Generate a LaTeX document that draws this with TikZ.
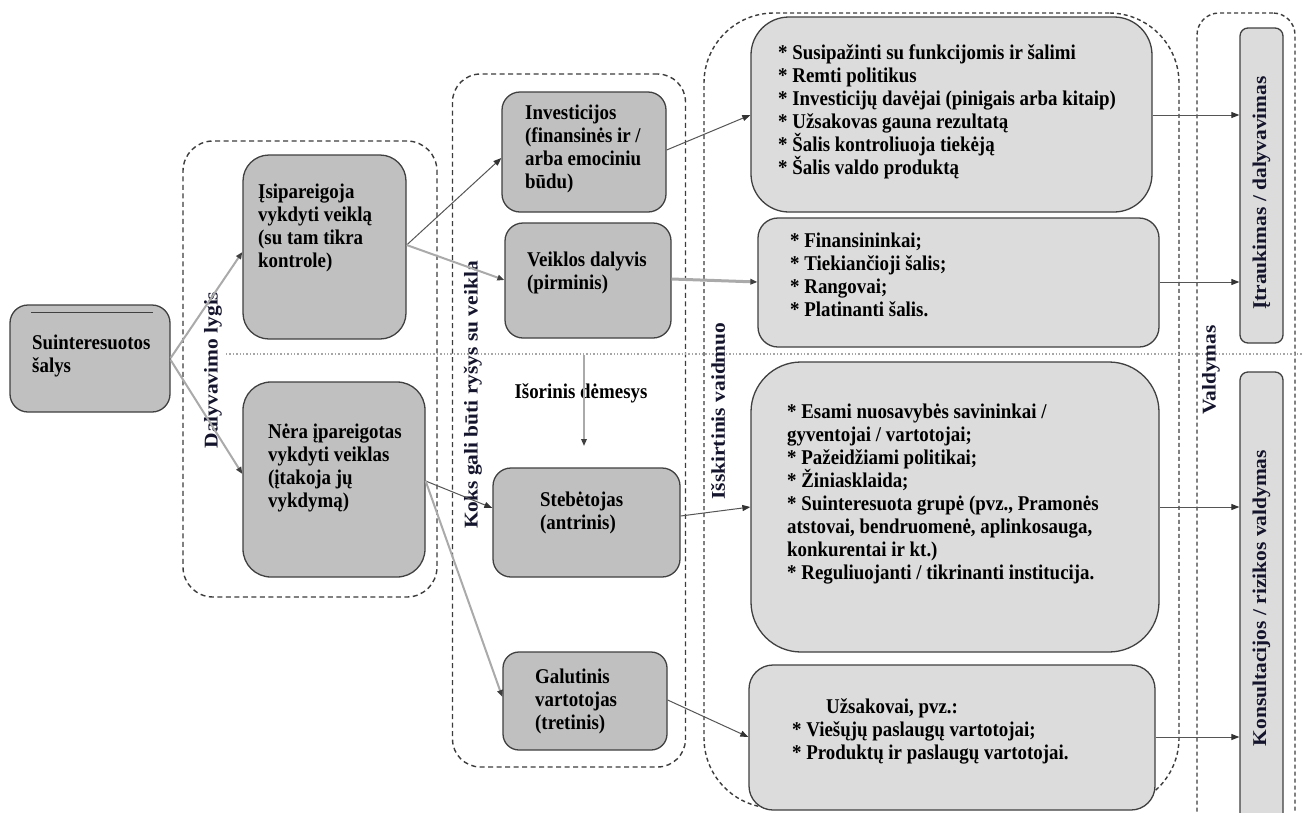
\documentclass[tikz,border=0pt]{standalone}
\usepackage{fontspec}
\setmainfont{Liberation Serif}[FakeStretch=0.9]
\newfontfamily\vfont{Liberation Serif}[FakeStretch=1.1]
\usetikzlibrary{arrows.meta}
\definecolor{boxdark}{RGB}{192,192,192}
\definecolor{boxlight}{RGB}{220,220,220}
\definecolor{edge}{RGB}{64,64,64}
\definecolor{grpline}{RGB}{60,60,60}
\definecolor{labcol}{RGB}{20,20,45}
\definecolor{lightarrow}{RGB}{170,170,170}
\definecolor{darkarrow}{RGB}{85,85,85}
\tikzset{
  lbox/.style={draw=edge, line width=1.3pt, fill=boxdark, inner sep=0},
  rbox/.style={draw=edge, line width=1.3pt, fill=boxlight, inner sep=0},
  grp/.style={draw=grpline, line width=1.4pt, dash pattern=on 5pt off 3.5pt, inner sep=0},
  grpfine/.style={grp, dash pattern=on 4pt off 3pt},
  txt/.style={anchor=west, align=left, inner sep=0, font=\fontsize{21}{23}\selectfont\bfseries, text=black},
  vlab/.style={rotate=90, inner sep=0, font=\vfont\fontsize{19.5}{23}\selectfont\bfseries, text=labcol},
  larr/.style={draw=lightarrow, line width=2pt, -{Triangle[length=7pt,width=5.5pt,fill=black!75,color=black!75]}},
  darr/.style={draw=darkarrow, line width=1pt, -{Triangle[length=8pt,width=6pt,fill=black!80,color=black!80]}},
  dotline/.style={draw=black!35, line width=1.4pt, dotted}
}
\begin{document}
\begin{tikzpicture}[x=1pt,y=-1pt]
\useasboundingbox (0,0) rectangle (1302,812);
\clip (0,0) rectangle (1302,812);
\fill[white] (0,0) rectangle (1302,812);

% groups
\node[grp, rounded corners=30, minimum width=254, minimum height=456] (g1) at (310,369) {};
\node[grp, rounded corners=28, minimum width=233, minimum height=693] (g2) at (569,420.5) {};
\node[grpfine, rounded corners=70, minimum width=475, minimum height=795] (g3) at (941.5,410.5) {};
\node[grpfine, rounded corners=22, minimum width=98, minimum height=830] (g4) at (1246,428) {};

% dotted divider
\coordinate (d1) at (226,354);
\coordinate (d2) at (1302,354);
\draw[dotline] (d1) -- (d2);

% boxes
\node[lbox, rounded corners=18, minimum width=160, minimum height=107] (s) at (90,358.5) {};
\draw[edge, line width=0.9pt] ([xshift=22pt,yshift=-8pt]s.north west) -- ([xshift=-18pt,yshift=-8pt]s.north east);
\node[lbox, rounded corners=26, minimum width=163, minimum height=184] (isip) at (324.5,247) {};
\node[lbox, rounded corners=28, minimum width=182, minimum height=195] (nera) at (334,479.5) {};
\node[lbox, rounded corners=18, minimum width=164, minimum height=120] (inv) at (584,152) {};
\node[lbox, rounded corners=18, minimum width=166, minimum height=115] (veik) at (588,280.5) {};
\node[lbox, rounded corners=18, minimum width=187, minimum height=109] (steb) at (586.5,522.5) {};
\node[lbox, rounded corners=16, minimum width=164, minimum height=98] (gal) at (585,701) {};

\node[rbox, rounded corners=38, minimum width=401, minimum height=195] (ba) at (951.5,114.5) {};
\node[rbox, rounded corners=20, minimum width=401, minimum height=129] (bb) at (958.5,282.5) {};
\node[rbox, rounded corners=50, minimum width=408, minimum height=290] (bc) at (955,507) {};
\node[rbox, rounded corners=24, minimum width=406, minimum height=145] (bd) at (952,737.5) {};

\node[rbox, rounded corners=8, minimum width=43, minimum height=315] (itr) at (1261.5,185.5) {};
\node[rbox, rounded corners=8, minimum width=43, minimum height=460] (kons) at (1261.5,602) {};

% texts
\node[txt] (ts) at (32,356) {Suinteresuotos\\šalys};
\node[txt] (tisip) at (258,228) {Įsipareigoja\\vykdyti veiklą\\(su tam tikra\\kontrole)};
\node[txt] (tnera) at (268,468) {Nėra įpareigotas\\vykdyti veiklas\\(įtakoja jų\\vykdymą)};
\node[txt] (tinv) at (525,149) {Investicijos\\(finansinės ir /\\arba emociniu\\būdu)};
\node[txt] (tveik) at (527,273) {Veiklos dalyvis\\(pirminis)};
\node[txt] (tsteb) at (540,513) {Stebėtojas\\(antrinis)};
\node[txt] (tgal) at (535,701) {Galutinis\\vartotojas\\(tretinis)};
\node[txt] (tba) at (778,112) {* Susipažinti su funkcijomis ir šalimi\\* Remti politikus\\* Investicijų davėjai (pinigais arba kitaip)\\* Užsakovas gauna rezultatą\\* Šalis kontroliuoja tiekėją\\* Šalis valdo produktą};
\node[txt] (tbb) at (790,275) {* Finansininkai;\\* Tiekiančioji šalis;\\* Rangovai;\\* Platinanti šalis.};
\node[txt] (tbc) at (787,494) {* Esami nuosavybės savininkai /\\gyventojai / vartotojai;\\* Pažeidžiami politikai;\\* Žiniasklaida;\\* Suinteresuota grupė (pvz., Pramonės\\atstovai, bendruomenė, aplinkosauga,\\konkurentai ir kt.)\\* Reguliuojanti / tikrinanti institucija.};
\node[txt] (tbd) at (792,731) {\hspace*{34pt}Užsakovai, pvz.:\\* Viešųjų paslaugų vartotojai;\\* Produktų ir paslaugų vartotojai.};
\node[txt, anchor=center] (isor) at (581,393) {Išorinis dėmesys};

% vertical labels
\node[vlab] (l1) at (213,370) {Dalyvavimo lygis};
\node[vlab] (l2) at (473,395) {Koks gali būti ryšys su veikla};
\node[vlab] (l3) at (718,411) {Išskirtinis vaidmuo};
\node[vlab] (l4) at (1211,370) {Valdymas};
\node[vlab] (l5) at (1261.5,193) {Įtraukimas / dalyvavimas};
\node[vlab] (l6) at (1261.5,598) {Konsultacijos / rizikos valdymas};

% connectors
\draw[larr] (s.east |- 0,358) -- (isip.west |- 0,252);
\draw[larr] (s.east |- 0,360) -- (nera.west |- 0,474);
\draw[darr] (isip.east |- 0,245) -- (inv.west |- 0,158);
\draw[larr] (isip.east |- 0,245) -- (veik.west |- 0,280);
\draw[darr] (nera.east |- 0,481) -- (steb.west |- 0,508);
\draw[larr] (nera.east |- 0,481) -- (gal.west |- 0,697);
\coordinate (isorTop) at (584,355);
\coordinate (isorBot) at (584,446);
\draw[larr, line width=1.6pt] (isorTop) -- (isorBot);
\draw[darr] (inv.east |- 0,150) -- (ba.west |- 0,115);
\draw[larr, line width=3pt] (veik.east |- 0,279) -- (bb.west |- 0,282);
\draw[darr] (steb.east |- 0,516) -- (bc.west |- 0,507);
\draw[darr] (gal.east |- 0,700) -- (bd.west |- 0,737);
\draw[darr] (ba.east |- 0,115) -- (itr.west |- 0,115);
\draw[darr] (bb.east |- 0,282) -- (itr.west |- 0,282);
\draw[darr] (bc.east |- 0,507) -- (kons.west |- 0,507);
\draw[darr] (bd.east |- 0,737) -- (kons.west |- 0,737);
\end{tikzpicture}
\end{document}
